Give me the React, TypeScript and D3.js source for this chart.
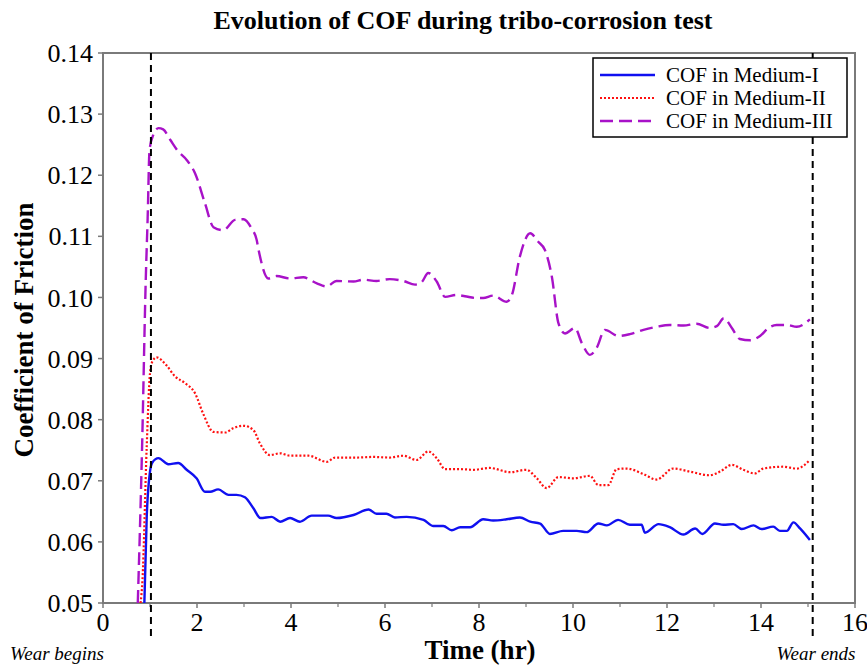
import React from "react";
import * as d3 from "d3";

const timeI = [0.88,0.93,1.0,1.05,1.18,1.39,1.6,1.78,1.99,2.17,2.28,2.45,2.67,2.84,3.02,3.2,3.35,3.59,3.77,3.98,4.19,4.44,4.79,4.97,5.33,5.65,5.82,6.03,6.21,6.46,6.82,7.03,7.24,7.42,7.6,7.81,8.09,8.3,8.59,8.87,9.09,9.3,9.51,9.79,10.08,10.29,10.54,10.72,10.96,11.21,11.46,11.53,11.82,12.06,12.35,12.6,12.75,13.02,13.2,13.41,13.59,13.84,14.01,14.26,14.4,14.55,14.69,14.83,15.04];
const cofI = [0.05,0.064,0.0715,0.073,0.0737,0.0727,0.0729,0.0718,0.0704,0.0682,0.0682,0.0686,0.0677,0.0677,0.0673,0.0655,0.0639,0.0641,0.0633,0.0639,0.0633,0.0643,0.0643,0.0639,0.0644,0.0653,0.0646,0.0646,0.064,0.0641,0.0636,0.0626,0.0626,0.0619,0.0624,0.0624,0.0637,0.0635,0.0637,0.064,0.0633,0.063,0.0613,0.0618,0.0618,0.0616,0.063,0.0627,0.0636,0.0628,0.0628,0.0615,0.0629,0.0624,0.0612,0.0622,0.0613,0.063,0.0628,0.0629,0.0621,0.0627,0.0621,0.0625,0.0618,0.0618,0.0632,0.0622,0.0603];

const timeII = [0.8,0.84,0.93,1.0,1.05,1.14,1.35,1.53,1.74,1.96,2.13,2.35,2.6,2.77,2.99,3.2,3.34,3.55,3.77,3.98,4.37,4.76,4.94,5.4,5.75,6.1,6.39,6.67,6.92,7.1,7.28,7.6,7.88,8.23,8.66,9.01,9.23,9.44,9.69,10.01,10.36,10.54,10.75,10.93,11.14,11.5,11.78,12.13,12.49,12.91,13.13,13.38,13.62,13.87,14.05,14.47,14.76,15.04];
const cofII = [0.05,0.0538,0.0756,0.0876,0.0895,0.0902,0.0889,0.0871,0.086,0.0843,0.081,0.078,0.0779,0.0786,0.079,0.0783,0.0761,0.0742,0.0745,0.0741,0.0741,0.0731,0.0738,0.0738,0.0739,0.0738,0.0741,0.0734,0.0748,0.0737,0.0719,0.0719,0.0718,0.0721,0.0714,0.0718,0.0704,0.0688,0.0706,0.0704,0.0708,0.0693,0.0693,0.0719,0.072,0.0711,0.0702,0.072,0.0715,0.0709,0.0715,0.0726,0.0718,0.0712,0.072,0.0723,0.072,0.0734];

const timeIII = [0.74,0.83,0.91,0.95,0.99,1.07,1.18,1.28,1.43,1.6,1.78,1.96,2.17,2.35,2.56,2.81,2.99,3.16,3.27,3.31,3.52,3.69,3.98,4.26,4.55,4.76,4.97,5.33,5.54,5.82,6.1,6.39,6.64,6.78,6.92,7.1,7.28,7.52,7.7,7.95,8.09,8.3,8.59,8.7,8.87,9.09,9.26,9.4,9.55,9.69,9.83,10.04,10.19,10.36,10.5,10.68,10.96,11.21,11.5,11.78,12.06,12.35,12.63,12.91,13.06,13.21,13.38,13.55,13.77,13.98,14.16,14.33,14.55,14.76,15.04];
const cofIII = [0.05,0.075,0.103,0.113,0.1241,0.1266,0.1277,0.1275,0.1258,0.1239,0.1225,0.1203,0.1154,0.1115,0.111,0.1127,0.1128,0.1113,0.1094,0.1078,0.1031,0.1035,0.1031,0.1033,0.1023,0.1018,0.1027,0.1026,0.1029,0.1027,0.103,0.1027,0.1021,0.1025,0.104,0.1026,0.1001,0.1004,0.1002,0.0999,0.0999,0.1003,0.0993,0.1004,0.1067,0.1105,0.1091,0.1078,0.1034,0.0958,0.0941,0.095,0.0925,0.0906,0.0917,0.0947,0.0937,0.094,0.0947,0.0952,0.0955,0.0954,0.0957,0.095,0.0953,0.0966,0.095,0.0932,0.093,0.0937,0.095,0.0955,0.0955,0.0952,0.0964];

const xTicks = [0, 2, 4, 6, 8, 10, 12, 14, 16];
const xMinorTicks = [1, 3, 5, 7, 9, 11, 13, 15];
const yTicks = [0.05, 0.06, 0.07, 0.08, 0.09, 0.10, 0.11, 0.12, 0.13, 0.14];
const wearTimes = [1.02, 15.1];
const seriesNames = ["COF in Medium-I", "COF in Medium-II", "COF in Medium-III"];

const W = 867, H = 666;
const M = { left: 103, right: 855, top: 53, bottom: 603 };
const SERIF = '"Liberation Serif", "Times New Roman", Times, serif';
const TS: React.CSSProperties = { fontFamily: SERIF };

export default function App() {
  const x = d3.scaleLinear().domain([0, 16]).range([M.left, M.right]);
  const y = d3.scaleLinear().domain([0.05, 0.14]).range([M.bottom, M.top]);
  const line = d3
    .line<[number, number]>()
    .x((d) => x(d[0]))
    .y((d) => y(d[1]))
    .curve(d3.curveMonotoneX);

  const series = [
    { name: seriesNames[0], t: timeI, v: cofI, color: "#1010f0", width: 2.4, dash: "none" },
    { name: seriesNames[1], t: timeII, v: cofII, color: "#ff1010", width: 2.2, dash: "2,2" },
    { name: seriesNames[2], t: timeIII, v: cofIII, color: "#a812c8", width: 2.4, dash: "13,6" },
  ];

  const legendX = 593, legendY = 58, legendW = 254, legendH = 79;

  return (
    <svg
      width={W}
      height={H}
      style={{ position: "absolute", left: 0, top: 0, background: "#fff", fontFamily: SERIF }}
    >
      <defs>
        <clipPath id="plotclip">
          <rect x={M.left} y={M.top} width={M.right - M.left} height={M.bottom - M.top} />
        </clipPath>
      </defs>
      <rect x={0} y={0} width={W} height={H} fill="#fff" />
      <text x={463} y={29} textAnchor="middle" fontWeight="bold" fontSize={26} style={TS}>
        Evolution of COF during tribo-corrosion test
      </text>

      {/* frame */}
      <rect
        x={M.left}
        y={M.top}
        width={M.right - M.left}
        height={M.bottom - M.top}
        fill="none"
        stroke="#7a7a7a"
        strokeWidth={2}
      />

      {/* y ticks */}
      {yTicks.map((v) => (
        <g key={"y" + v}>
          <line x1={M.left - 5} x2={M.left} y1={y(v)} y2={y(v)} stroke="#7a7a7a" strokeWidth={1.5} />
          <text x={M.left - 10} y={y(v)} dy="0.35em" textAnchor="end" fontSize={26} style={TS}>
            {v.toFixed(2)}
          </text>
        </g>
      ))}

      {/* x ticks */}
      {xTicks.map((t) => (
        <g key={"x" + t}>
          <line x1={x(t)} x2={x(t)} y1={M.bottom} y2={M.bottom + 5} stroke="#7a7a7a" strokeWidth={1.5} />
          <text x={x(t)} y={M.bottom + 28} textAnchor="middle" fontSize={26} style={TS}>
            {t}
          </text>
        </g>
      ))}
      {xMinorTicks.map((t) => (
        <line key={"xm" + t} x1={x(t)} x2={x(t)} y1={M.bottom} y2={M.bottom + 4} stroke="#7a7a7a" strokeWidth={1.2} />
      ))}

      {/* series */}
      <g clipPath="url(#plotclip)">
        {series.map((s) => (
          <path
            key={s.name}
            d={line(s.t.map((t, i) => [t, s.v[i]] as [number, number])) || ""}
            fill="none"
            stroke={s.color}
            strokeWidth={s.width}
            strokeDasharray={s.dash}
            strokeLinejoin="round"
          />
        ))}
      </g>

      {/* wear lines */}
      {wearTimes.map((t) => (
        <line
          key={"w" + t}
          x1={x(t)}
          x2={x(t)}
          y1={M.top}
          y2={640}
          stroke="#000"
          strokeWidth={2}
          strokeDasharray="7,5"
        />
      ))}
      <text x={57} y={660} textAnchor="middle" fontStyle="italic" fontSize={19} style={TS}>
        Wear begins
      </text>
      <text x={816} y={660} textAnchor="middle" fontStyle="italic" fontSize={19} style={TS}>
        Wear ends
      </text>

      {/* axis titles */}
      <text x={480} y={659} textAnchor="middle" fontWeight="bold" fontSize={27} style={TS}>
        Time (hr)
      </text>
      <text
        transform={`translate(24,330) rotate(-90)`}
        dy="0.35em"
        textAnchor="middle"
        fontWeight="bold"
        fontSize={27}
        style={TS}
      >
        Coefficient of Friction
      </text>

      {/* legend */}
      <rect x={legendX} y={legendY} width={legendW} height={legendH} fill="#fff" stroke="#000" strokeWidth={1.5} />
      {series.map((s, i) => {
        const ly = 75 + i * 23;
        return (
          <g key={"lg" + i}>
            <line
              x1={600}
              x2={655}
              y1={ly}
              y2={ly}
              stroke={s.color}
              strokeWidth={s.width}
              strokeDasharray={s.dash}
            />
            <text x={666} y={ly} dy="0.33em" fontSize={21} style={TS}>
              {s.name}
            </text>
          </g>
        );
      })}
    </svg>
  );
}
